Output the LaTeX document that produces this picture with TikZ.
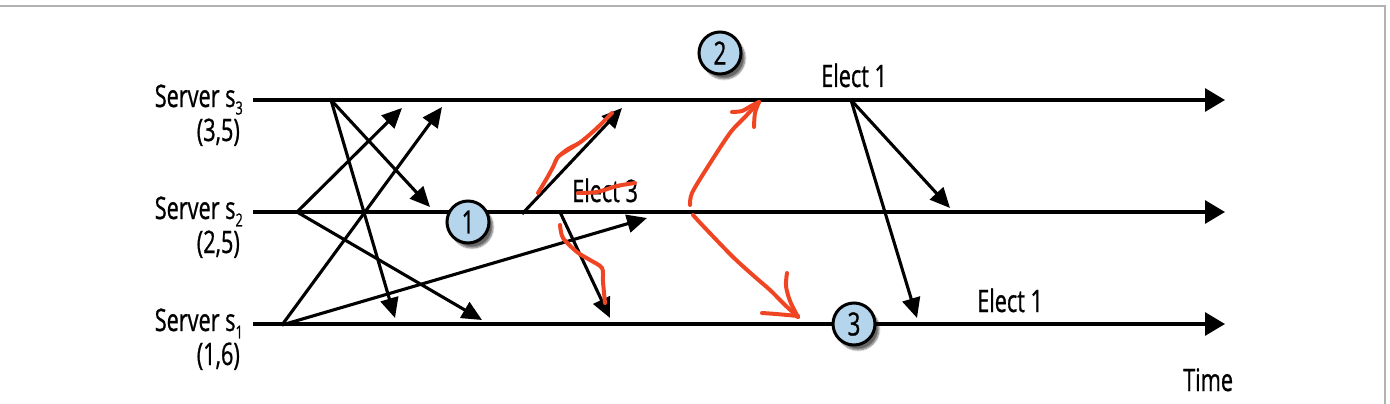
\documentclass[tikz,border=0pt]{standalone}
\usepackage{fontspec}
\newfontfamily\cond[FakeStretch=0.7,FakeBold=0.8]{Open Sans}
\usetikzlibrary{arrows.meta,shadows.blur}
\definecolor{circfill}{HTML}{B5D5EC}
\definecolor{pen}{HTML}{F04523}
\newcommand{\srv}[1]{Server s\raisebox{-0.24em}[0pt][0pt]{\fontsize{18}{18}\selectfont #1}}
\tikzset{
  txt/.style={font=\cond\fontsize{31}{33}\selectfont, inner sep=0pt},
  timeline/.style={line width=3.1pt, -{Triangle[length=20pt,width=23pt]}},
  msg/.style={line width=3.1pt, -{Triangle[length=20pt,width=18pt]}},
  numcirc/.style={circle, draw=black, line width=3pt, fill=circfill, minimum size=42pt, inner sep=0pt,
    font=\cond\fontsize{32}{34}\selectfont,
    blur shadow={shadow xshift=4pt, shadow yshift=-5pt, shadow blur steps=8, shadow opacity=60}},
  redpen/.style={pen, line width=4pt, line cap=round, line join=round}
}
\begin{document}
\begin{tikzpicture}[x=1pt,y=-1pt]
\useasboundingbox (0,0) rectangle (1390,404);
\draw[gray!60, line width=2pt] (0,6) -- (1385,6) -- (1385,404);

% timelines
\coordinate (l3s) at (253,100); \coordinate (l3e) at (1225,100);
\coordinate (l2s) at (253,212); \coordinate (l2e) at (1225,212);
\coordinate (l1s) at (253,324); \coordinate (l1e) at (1225,324);
\draw[timeline] (l3s) -- (l3e);
\draw[timeline] (l2s) -- (l2e);
\draw[timeline] (l1s) -- (l1e);

% labels
\node[txt, anchor=base east] (s3a) at (243,107) {\srv{3}};
\node[txt, anchor=base east] (s3b) at (240,141) {(3,5)};
\node[txt, anchor=base east] (s2a) at (243,219) {\srv{2}};
\node[txt, anchor=base east] (s2b) at (240,253) {(2,5)};
\node[txt, anchor=base east] (s1a) at (243,331) {\srv{1}};
\node[txt, anchor=base east] (s1b) at (240,365) {(1,6)};

\node[txt, anchor=base west] (e1t) at (821,87) {Elect 1};
\node[txt, anchor=base west] (e1b) at (977,312) {Elect 1};
\node[txt, anchor=base west] (e3) at (572,202) {Elect 3};
\node[txt, anchor=base west] (time) at (1183,391) {Time};

% message coordinates
\coordinate (a0) at (331,100);
\coordinate (a1) at (430,207);
\coordinate (b1) at (395,318);
\coordinate (c0) at (297,212);
\coordinate (c1) at (402,108);
\coordinate (d1) at (482,320);
\coordinate (e0) at (282,325);
\coordinate (e1) at (442,107);
\coordinate (f1) at (647,218);
\coordinate (g0) at (522,214);
\coordinate (g1) at (622,108);
\coordinate (h0) at (560,212);
\coordinate (h1) at (610,318);
\coordinate (i0) at (851,100);
\coordinate (i1) at (950,208);
\coordinate (j1) at (917,318);

\draw[msg] (a0) -- (a1);
\draw[msg] (a0) -- (b1);
\draw[msg] (c0) -- (c1);
\draw[msg] (c0) -- (d1);
\draw[msg] (e0) -- (e1);
\draw[msg] (e0) -- (f1);
\draw[msg] (g0) -- (g1);
\draw[msg] (h0) -- (h1);
\draw[msg] (i0) -- (i1);
\draw[msg] (i0) -- (j1);

% numbered circles
\node[numcirc] (n1) at (468,222) {1};
\node[numcirc] (n2) at (720,53) {2};
\node[numcirc] (n3) at (854,324) {3};

% red hand-drawn strokes
\draw[redpen] plot[smooth] coordinates {(538,193) (547,178) (553,167) (558,157) (568,150) (582,141) (597,128) (612,113)};
\draw[redpen, line width=3pt] plot[smooth] coordinates {(553,168) (557,158) (567,149) (579,143)};
\draw[redpen] plot[smooth] coordinates {(578,193) (597,192) (617,186) (635,183)};
\draw[redpen] plot[smooth] coordinates {(560,225) (563,238) (577,252) (590,260) (602,268) (603,282) (605,303)};
\draw[redpen] plot[smooth] coordinates {(690,205) (692,193) (707,168) (730,133) (745,117) (759,102)};
\draw[redpen] plot[smooth] coordinates {(732,112) (742,111) (751,106) (759,102)};
\draw[redpen] plot[smooth] coordinates {(759,102) (755,113) (754,127)};
\draw[redpen] plot[smooth] coordinates {(693,215) (705,228) (733,257) (755,277) (770,290) (785,305) (798,317)};
\draw[redpen] plot[smooth] coordinates {(787,273) (786,286) (790,301) (798,317)};
\draw[redpen] plot[smooth] coordinates {(762,313) (776,314) (798,316)};
\end{tikzpicture}
\end{document}
